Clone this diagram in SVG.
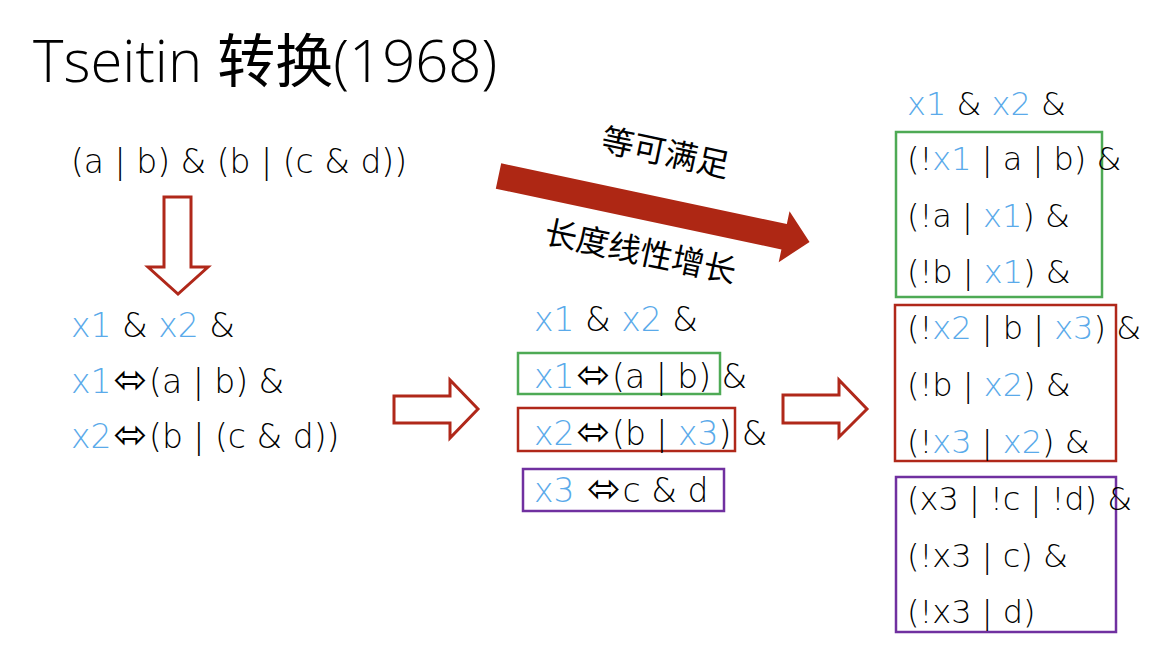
<svg xmlns="http://www.w3.org/2000/svg" width="1171" height="649" viewBox="0 0 1171 649">
  <style>
    .t { font-family: "DejaVu Sans", "Noto Sans CJK SC", sans-serif; font-weight: 200; font-size: 33px; fill: #000; }
    .rc { font-size: 32px; }
    .ttl { font-family: "Open Sans", "Noto Sans CJK SC", sans-serif; font-weight: 300; font-size: 58px; fill: #000; }
    .v { fill: #5AAAEA; }
    .iff { font-family: "DejaVu Sans", sans-serif; font-weight: 400; font-size: 40px; }
    .box { fill: none; stroke-width: 2.5; }
    .g { stroke: #4EAA55; }
    .r { stroke: #B0281A; }
    .p { stroke: #7030A0; }
    .hollow { fill: #fff; stroke: #B0281A; stroke-width: 3; stroke-linejoin: miter; }
    .cn { font-family: "Noto Sans CJK SC", sans-serif; font-size: 32.5px; fill: #000; }
    .zh { font-family: "Noto Sans CJK SC", sans-serif; font-weight: 400; }
  </style>

  <!-- title -->
  <g id="title">
    <text x="33" y="82" class="ttl">Tseitin <tspan class="zh">转换</tspan>(1968)</text>
  </g>

  <!-- connectors: block arrows -->
  <g id="connectors">
    <polygon class="hollow" points="164,197 191,197 191,267 208,267 178,294 148,267 164,267"/>
    <polygon class="hollow" points="394,396 450,396 450,380 478,409 450,438 450,423 394,423"/>
    <polygon class="hollow" points="783,395 839,395 839,380 867,409 839,437 839,423 783,423"/>
    <polygon fill="#AE2714" transform="translate(498.5,176) rotate(12)" points="0,-13 292,-13 292,-26 318,0 292,26 292,13 0,13"/>
    <text class="cn" transform="translate(663,164) rotate(12)" text-anchor="middle">等可满足</text>
    <text class="cn" transform="translate(638,263) rotate(12)" text-anchor="middle">长度线性增长</text>
  </g>

  <!-- original formula -->
  <g id="formula">
    <text x="71" y="173" class="t">(a | b) &amp; (b | (c &amp; d))</text>
  </g>

  <!-- first encoding -->
  <g id="encoding">
    <text x="71" y="337" class="t"><tspan class="v">x1</tspan> &amp; <tspan class="v">x2</tspan> &amp;</text>
    <text x="71" y="393" class="t"><tspan class="v">x1</tspan><tspan class="iff" dx="2">⬄</tspan><tspan dx="2">(a | b) &amp;</tspan></text>
    <text x="71" y="448" class="t"><tspan class="v">x2</tspan><tspan class="iff" dx="2">⬄</tspan><tspan dx="2">(b | (c &amp; d))</tspan></text>
  </g>

  <!-- definitions with auxiliary x3 -->
  <g id="definitions">
    <text x="534" y="331" class="t"><tspan class="v">x1</tspan> &amp; <tspan class="v">x2</tspan> &amp;</text>
    <rect class="box g" x="518" y="353" width="202" height="41"/>
    <text x="534" y="388" class="t"><tspan class="v">x1</tspan><tspan class="iff" dx="2">⬄</tspan><tspan dx="2">(a | b) &amp;</tspan></text>
    <rect class="box r" x="518" y="408" width="217" height="43"/>
    <text x="534" y="445" class="t"><tspan class="v">x2</tspan><tspan class="iff" dx="2">⬄</tspan><tspan dx="2">(b | </tspan><tspan class="v">x3</tspan>) &amp;</text>
    <rect class="box p" x="523" y="469" width="201" height="42"/>
    <text x="534" y="502" class="t"><tspan class="v">x3</tspan> <tspan class="iff" dx="2">⬄</tspan><tspan dx="2">c &amp; d</tspan></text>
  </g>

  <!-- CNF clauses -->
  <g id="cnf" class="rc">
    <text x="907" y="115" class="t rc"><tspan class="v">x1</tspan> &amp; <tspan class="v">x2</tspan> &amp;</text>
    <rect class="box g" x="896" y="132" width="206" height="165"/>
    <text x="907" y="170" class="t rc">(!<tspan class="v">x1</tspan> | a | b) &amp;</text>
    <text x="907" y="227" class="t rc">(!a | <tspan class="v">x1</tspan>) &amp;</text>
    <text x="907" y="283" class="t rc">(!b | <tspan class="v">x1</tspan>) &amp;</text>
    <rect class="box r" x="895" y="305" width="221" height="156"/>
    <text x="907" y="339" class="t rc">(!<tspan class="v">x2</tspan> | b | <tspan class="v">x3</tspan>) &amp;</text>
    <text x="907" y="396" class="t rc">(!b | <tspan class="v">x2</tspan>) &amp;</text>
    <text x="907" y="453" class="t rc">(!<tspan class="v">x3</tspan> | <tspan class="v">x2</tspan>) &amp;</text>
    <rect class="box p" x="896" y="477" width="220" height="155"/>
    <text x="907" y="510" class="t rc">(x3 | !c | !d) &amp;</text>
    <text x="907" y="567" class="t rc">(!x3 | c) &amp;</text>
    <text x="907" y="623" class="t rc">(!x3 | d)</text>
  </g>
</svg>
